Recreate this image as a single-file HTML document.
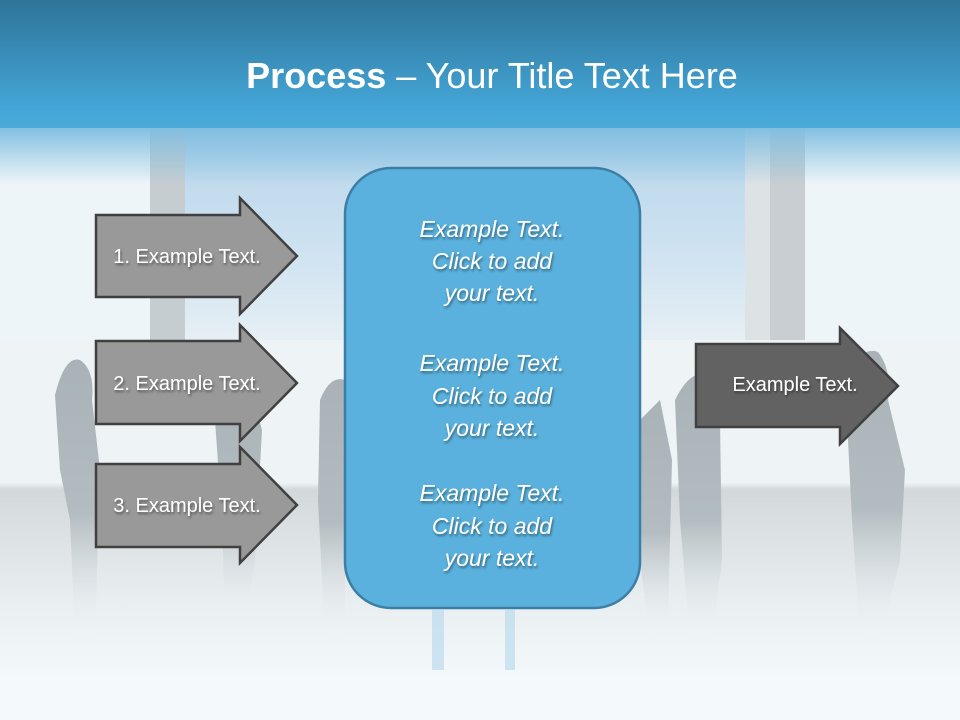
<!DOCTYPE html>
<html><head><meta charset="utf-8"><style>
html,body{margin:0;padding:0;width:960px;height:720px;overflow:hidden;background:#f4f9fb}
svg{display:block}
text{font-family:"Liberation Sans",sans-serif}
</style></head><body>
<svg width="960" height="720" viewBox="0 0 960 720" xmlns="http://www.w3.org/2000/svg">
<defs>
<linearGradient id="hdr" x1="0" y1="0" x2="0" y2="1">
<stop offset="0" stop-color="#2e7499"/><stop offset="0.85" stop-color="#44a6d7"/><stop offset="1" stop-color="#4aa9d8"/>
</linearGradient>
<linearGradient id="fade" x1="0" y1="0" x2="0" y2="1">
<stop offset="0" stop-color="#7fbde0"/><stop offset="1" stop-color="#7fbde0" stop-opacity="0"/>
</linearGradient>
<linearGradient id="win" x1="0" y1="0" x2="0" y2="1">
<stop offset="0" stop-color="#b5d4ea"/><stop offset="0.6" stop-color="#cfe3f1"/><stop offset="1" stop-color="#e6eff4"/>
</linearGradient>
<linearGradient id="floor" x1="0" y1="0" x2="0" y2="1">
<stop offset="0" stop-color="#eef3f5"/><stop offset="0.42" stop-color="#eef3f5"/><stop offset="0.44" stop-color="#d3d8da"/><stop offset="0.75" stop-color="#e8edef"/><stop offset="1" stop-color="#f4f9fb"/>
</linearGradient>
<linearGradient id="ppl" x1="0" y1="0" x2="0" y2="1">
<stop offset="0" stop-color="#a9b2b7"/><stop offset="0.55" stop-color="#b3bcc1"/><stop offset="1" stop-color="#f4f9fb" stop-opacity="0"/>
</linearGradient>
<filter id="sh" x="-20%" y="-20%" width="140%" height="140%"><feDropShadow dx="1" dy="2" stdDeviation="1.2" flood-color="#000" flood-opacity="0.45"/></filter>
</defs>
<rect width="960" height="720" fill="#f4f9fb"/>
<rect x="0" y="125" width="960" height="215" fill="#eef5f9"/>
<rect x="185" y="125" width="560" height="215" fill="url(#win)"/>
<rect x="150" y="125" width="35" height="215" fill="#c6cdd1"/>
<rect x="745" y="125" width="30" height="220" fill="#dde2e5"/>
<rect x="770" y="125" width="35" height="220" fill="#c8ced1"/>
<rect x="0" y="340" width="960" height="340" fill="url(#floor)"/>
<rect x="0" y="125" width="960" height="60" fill="url(#fade)"/>
<g fill="url(#ppl)">
<path d="M55 395 Q65 355 80 360 Q95 370 92 400 L100 470 L95 640 L75 640 L70 520 L60 470 Z"/>
<path d="M215 420 L230 380 L250 385 L262 430 L255 560 L245 620 L225 620 L222 520 Z"/>
<path d="M320 400 Q330 375 345 380 L345 640 L325 640 L318 500 Z"/>
<path d="M640 420 L660 400 L672 460 L668 620 L650 640 L640 560 Z"/>
<path d="M675 400 Q690 370 705 375 L720 420 L722 560 L712 640 L690 640 L680 520 Z"/>
<path d="M845 380 Q860 345 878 352 Q892 370 888 400 L905 470 L900 560 L880 640 L860 640 L852 520 Z"/>
</g>
<rect x="0" y="0" width="960" height="128" fill="url(#hdr)"/>
<text x="492" y="88" text-anchor="middle" fill="#fff" font-size="36"><tspan font-weight="bold">Process</tspan> – Your Title Text Here</text>

<g stroke="#404040" stroke-width="2.5" fill="#999">
<path d="M96 215 H240 V198 L297 256 L240 314 V297 H96 Z"/>
<path d="M96 341 H240 V325 L297 383 L240 441 V424 H96 Z"/>
<path d="M96 464 H240 V447 L297 505 L240 563 V547 H96 Z"/>
<path fill="#626262" d="M696 344 H840 V328 L898 386 L840 444 V427 H696 Z"/>
</g>
<g fill="#fff" font-size="20" filter="url(#sh)" text-anchor="middle">
<text x="187" y="263">1. Example Text.</text>
<text x="187" y="390">2. Example Text.</text>
<text x="187" y="512">3. Example Text.</text>
<text x="795" y="391">Example Text.</text>
</g>
<rect x="345" y="168" width="295" height="440" rx="46" fill="#5ab1dd" stroke="#3b7ea6" stroke-width="2.5"/>
<g fill="#fff" font-size="23" font-style="italic" text-anchor="middle" filter="url(#sh)">
<text x="492" y="237">Example Text.</text>
<text x="492" y="269">Click  to add</text>
<text x="492" y="301">your text.</text>
<text x="492" y="371">Example Text.</text>
<text x="492" y="404">Click  to add</text>
<text x="492" y="436">your text.</text>
<text x="492" y="501">Example Text.</text>
<text x="492" y="534">Click  to add</text>
<text x="492" y="566">your text.</text>
</g>
<rect x="432" y="610" width="12" height="60" fill="#bcdcee" opacity="0.7"/>
<rect x="505" y="610" width="10" height="60" fill="#bcdcee" opacity="0.7"/>
</svg>
</body></html>
